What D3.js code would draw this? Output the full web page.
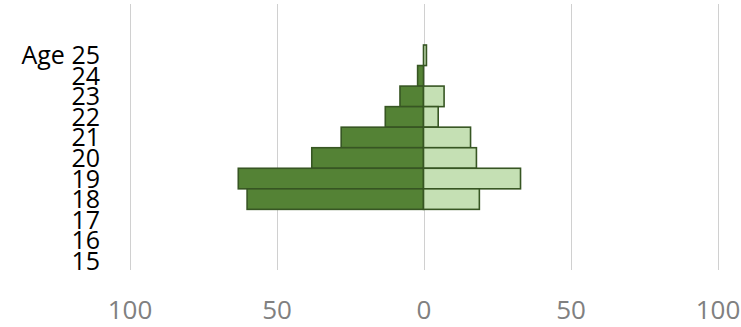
<!DOCTYPE html>
<html>
<head>
<meta charset="utf-8">
<script src="https://cdn.jsdelivr.net/npm/d3@7"></script>
<style>
html,body{margin:0;padding:0;background:#fff;}
svg{display:block;}
</style>
</head>
<body>
<svg id="chart" width="741" height="327"></svg>
<script>
const ages = ["25","24","23","22","21","20","19","18","17","16","15"];
const ageLabels = ["Age 25","24","23","22","21","20","19","18","17","16","15"];
const leftValues  = [0, 2, 8, 13, 28, 38, 63, 60, 0, 0, 0];
const rightValues = [1, 0, 7, 5, 16, 18, 33, 19, 0, 0, 0];
const xTicks = [-100, -50, 0, 50, 100];

const svg = d3.select("#chart");
const x = d3.scaleLinear().domain([-100, 100]).range([129.5, 717.5]);
const y = d3.scaleBand().domain(ages).range([45, 271]).padding(0);

// gridlines
svg.append("g").selectAll("line").data(xTicks).join("line")
  .attr("x1", d => Math.round(x(d)) + 0.5).attr("x2", d => Math.round(x(d)) + 0.5)
  .attr("y1", 4).attr("y2", 270)
  .attr("stroke", "#d0d0d0").attr("stroke-width", 1);

// left bars
svg.append("g").selectAll("rect").data(ages.map((a, i) => ({a, v: leftValues[i]})).filter(d => d.v > 0)).join("rect")
  .attr("x", d => x(-d.v)).attr("width", d => x(0) - x(-d.v))
  .attr("y", d => y(d.a)).attr("height", y.bandwidth())
  .attr("fill", "#548235").attr("stroke", "#375623").attr("stroke-width", 1.6);

// right bars
svg.append("g").selectAll("rect").data(ages.map((a, i) => ({a, v: rightValues[i]})).filter(d => d.v > 0)).join("rect")
  .attr("x", x(0)).attr("width", d => x(d.v) - x(0))
  .attr("y", d => y(d.a)).attr("height", y.bandwidth())
  .attr("fill", "#c5e0b4").attr("stroke", "#375623").attr("stroke-width", 1.6);

// left axis labels
const yAxis = svg.append("g").attr("transform", "translate(100,0)")
  .call(d3.axisLeft(y).tickSize(0).tickPadding(0).tickFormat((d, i) => ageLabels[i]));
yAxis.select(".domain").remove();
yAxis.selectAll("text").attr("font-family", "'Open Sans', sans-serif").attr("font-size", 25)
  .attr("fill", "#000").attr("dy", "0.36em");

// bottom axis labels
const xAxis = svg.append("g").attr("transform", "translate(0,296)")
  .call(d3.axisBottom(x).tickValues(xTicks).tickSize(0).tickPadding(0).tickFormat(d => Math.abs(d)));
xAxis.select(".domain").remove();
xAxis.selectAll("text").attr("font-family", "'Open Sans', sans-serif").attr("font-size", 26)
  .attr("fill", "#808080").attr("dy", "0.9em");
</script>
</body>
</html>
